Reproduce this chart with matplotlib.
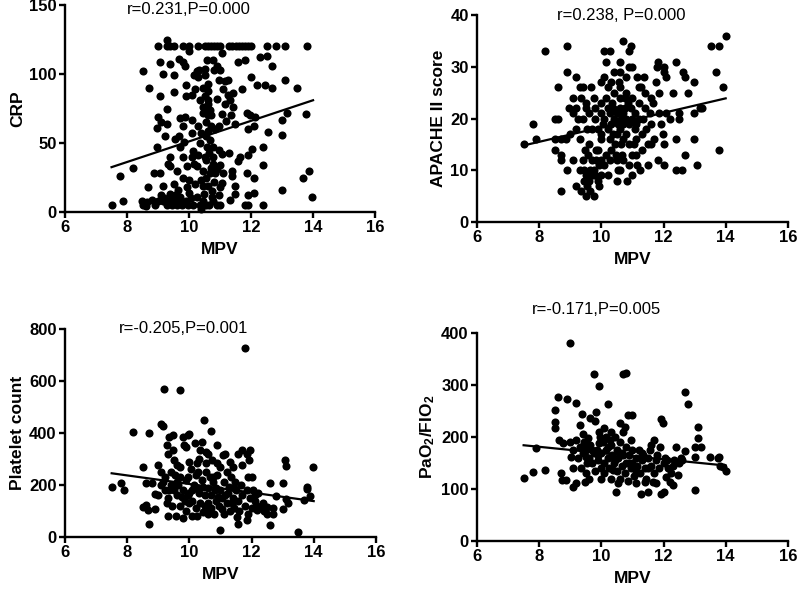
import numpy as np
import matplotlib
matplotlib.use('Agg')
import matplotlib.pyplot as plt

plt.rcParams['font.family'] = ['Liberation Sans', 'DejaVu Sans']
plt.rcParams['mathtext.fontset'] = 'custom'
plt.rcParams['mathtext.bf'] = 'Liberation Sans:bold'
plt.rcParams['mathtext.rm'] = 'Liberation Sans:bold'
plt.rcParams['mathtext.default'] = 'bf'

# CRP vs MPV
crp_pts = [
    (9.0, 120), (9.3, 120), (9.4, 120), (9.5, 120), (9.8, 120), (10.0, 120), (10.5, 120),
    (10.6, 120), (10.8, 120), (10.9, 120), (11.0, 120), (11.3, 120), (11.4, 120), (11.5, 120),
    (11.6, 120), (11.7, 120), (11.8, 120), (11.9, 120), (12.0, 120), (12.5, 120), (12.8, 120),
    (13.1, 120), (13.8, 120), (9.3, 125), (10.7, 120), (10.3, 120),
    (8.5, 102), (8.7, 90), (9.07, 109), (9.17, 100), (9.39, 107), (9.5, 99), (9.66, 111),
    (9.8, 109), (9.87, 106), (10.0, 117), (10.17, 99), (10.25, 102), (10.32, 103), (10.5, 104),
    (10.57, 110), (10.78, 110), (10.9, 106), (11.0, 103), (11.05, 115), (11.27, 96), (10.95, 96),
    (11.43, 86), (11.57, 109), (11.8, 110), (12.3, 112), (12.5, 113), (12.66, 106), (12.66, 90),
    (12.45, 92), (12.0, 98), (12.18, 92), (11.7, 89), (13.1, 96), (13.47, 90), (13.17, 72),
    (13.0, 67), (13.0, 56), (13.77, 71), (13.0, 16), (13.67, 25), (13.87, 30), (13.98, 11),
    (12.38, 5), (12.38, 34), (12.38, 47), (12.56, 58), (12.08, 62), (11.9, 60), (11.86, 72),
    (11.96, 70), (12.13, 69), (12.02, 46), (11.91, 41), (11.86, 28), (12.08, 25), (12.08, 14),
    (11.9, 12), (11.8, 5), (11.9, 5),
    (7.5, 5), (7.88, 8), (7.77, 26), (8.18, 32), (8.47, 8), (8.5, 5), (8.63, 7), (8.69, 18),
    (8.8, 9), (8.9, 5), (8.87, 28), (9.06, 28), (8.98, 47), (8.96, 61), (9.0, 69), (9.1, 65),
    (9.17, 19), (9.17, 8), (9.23, 55), (9.28, 64), (9.3, 75), (9.33, 35), (9.39, 33), (9.4, 13),
    (9.3, 5), (9.5, 8), (9.5, 20), (9.5, 87), (9.6, 5), (9.66, 55), (9.71, 47), (9.71, 68),
    (9.71, 11), (9.8, 62), (9.8, 40), (9.8, 25), (9.87, 69), (9.9, 84), (9.9, 92), (9.85, 51),
    (9.92, 33), (9.92, 18), (9.76, 5), (9.98, 5), (10.0, 23), (10.08, 57), (10.08, 67),
    (10.1, 85), (10.13, 44), (10.2, 89), (10.14, 5), (10.25, 11), (10.25, 33), (10.3, 41),
    (10.35, 50), (10.4, 57), (10.35, 5), (10.46, 19), (10.4, 23), (10.38, 2), (10.48, 13),
    (10.5, 40), (10.57, 47), (10.55, 65), (10.5, 74), (10.5, 84), (10.62, 81), (10.6, 78),
    (10.68, 74), (10.7, 70), (10.62, 59), (10.68, 52), (10.78, 47), (10.78, 40), (10.78, 35),
    (10.68, 28), (10.62, 19), (10.73, 11), (10.78, 8), (10.9, 5), (11.0, 5), (11.0, 18),
    (10.9, 31), (11.0, 34), (11.1, 28), (10.95, 45), (11.05, 42), (10.95, 62), (11.05, 71),
    (11.16, 78), (11.27, 85), (11.32, 81), (11.43, 76), (11.38, 30), (11.4, 26), (11.32, 9),
    (11.48, 13), (11.48, 19), (11.58, 37), (11.65, 40), (11.48, 64), (11.3, 43), (10.5, 99),
    (10.8, 103), (10.6, 93), (10.35, 81), (10.46, 76), (9.2, 10), (9.35, 8), (9.45, 10),
    (9.55, 12), (9.65, 16), (9.9, 8), (10.05, 10), (10.2, 20), (10.45, 30), (10.55, 38),
    (10.65, 43), (10.85, 28), (10.55, 5), (10.65, 5), (10.75, 15), (9.6, 30), (9.4, 40),
    (10.15, 35), (10.3, 62), (10.6, 88), (10.85, 60), (11.1, 89), (11.2, 66), (11.15, 95),
    (9.55, 53), (9.05, 84), (10.45, 72), (10.9, 82), (11.35, 70), (9.1, 12), (8.6, 4),
    (9.0, 8), (10.1, 40), (11.05, 21),
    (9.25, 7), (9.45, 5), (9.7, 8), (10.0, 14), (10.45, 8), (10.55, 25), (10.7, 32),
    (10.8, 22), (10.95, 12), (10.55, 55), (10.7, 62), (10.6, 70), (10.45, 90), (10.3, 98),
]

# APACHE II score vs MPV
apache_pts = [
    (7.5, 15), (7.8, 19), (7.9, 16), (8.2, 33), (8.5, 20), (8.6, 20), (8.5, 14), (8.6, 26),
    (8.5, 16), (8.7, 16), (8.7, 13), (8.7, 12), (8.7, 6), (8.87, 16), (8.9, 34), (8.9, 29),
    (8.9, 10), (8.97, 22), (9.0, 17), (9.1, 12), (9.1, 21), (9.09, 24), (9.2, 28), (9.2, 7),
    (9.2, 22), (9.25, 20), (9.3, 10), (9.3, 26), (9.34, 24), (9.34, 6), (9.4, 20), (9.4, 26),
    (9.44, 10), (9.46, 14), (9.5, 5), (9.5, 22), (9.5, 23), (9.55, 18), (9.57, 9), (9.57, 13),
    (9.67, 26), (9.75, 10), (9.73, 9), (9.78, 24), (9.78, 5), (9.84, 14), (9.84, 12), (9.9, 8),
    (9.92, 11), (9.94, 7), (9.99, 16), (9.99, 21), (10.0, 17), (10.0, 27), (10.05, 19),
    (10.07, 33), (10.14, 31), (10.1, 28), (10.16, 24), (10.16, 13), (10.21, 9), (10.21, 26),
    (10.27, 16), (10.29, 33), (10.27, 21), (10.29, 12), (10.37, 22), (10.37, 17), (10.4, 29),
    (10.48, 13), (10.5, 8), (10.53, 10), (10.56, 27), (10.59, 31), (10.6, 29), (10.59, 24),
    (10.62, 20), (10.64, 15), (10.7, 12), (10.71, 19), (10.71, 35), (10.75, 22), (10.8, 28),
    (10.83, 8), (10.88, 33), (10.96, 34), (10.9, 30), (11.0, 30), (10.98, 13), (11.0, 9),
    (11.07, 21), (11.07, 18), (11.12, 16), (11.14, 28), (11.15, 11), (11.23, 10), (11.28, 26),
    (11.36, 28), (11.4, 22), (11.44, 18), (11.5, 11), (11.55, 21), (11.6, 15), (11.66, 23),
    (11.7, 16), (11.77, 27), (11.79, 30), (11.82, 31), (11.82, 12), (11.85, 25), (11.87, 21),
    (11.93, 19), (11.98, 17), (12.0, 15), (12.0, 30), (12.03, 29), (12.09, 28), (12.03, 11),
    (12.09, 21), (12.2, 20), (12.3, 25), (12.4, 31), (12.4, 16), (12.4, 10), (12.5, 21),
    (12.5, 20), (12.6, 10), (12.62, 29), (12.7, 28), (12.7, 13), (12.8, 25), (12.98, 27),
    (12.98, 21), (12.98, 16), (13.08, 11), (13.16, 22), (13.25, 22), (13.53, 34), (13.7, 29),
    (13.8, 34), (13.8, 14), (13.9, 26), (14.0, 36),
    (9.6, 8), (9.7, 12), (9.65, 10), (9.5, 9), (9.4, 12), (9.6, 15), (9.7, 18), (9.8, 20),
    (9.9, 18), (10.1, 20), (10.2, 18), (10.3, 19), (10.4, 20), (10.5, 21), (10.6, 18),
    (10.7, 21), (10.8, 20), (10.9, 19), (11.0, 20), (11.1, 19), (11.2, 20), (10.5, 17),
    (10.7, 16), (10.9, 15), (11.0, 24), (10.8, 25), (10.6, 26), (10.4, 25), (10.2, 22),
    (10.0, 23), (9.8, 22), (11.2, 23), (11.3, 17), (11.5, 15), (11.6, 19), (11.3, 14),
    (10.3, 14), (10.1, 11), (10.0, 9), (9.9, 14), (10.5, 12), (10.6, 10), (10.9, 11),
    (11.1, 13), (11.4, 25), (11.6, 24), (9.6, 21), (9.2, 18), (9.3, 16), (10.8, 17),
    (11.2, 26), (10.3, 27), (10.6, 22), (10.85, 23),
    (9.45, 8), (9.55, 7), (9.65, 6), (9.8, 9), (10.0, 12), (10.45, 15), (10.65, 13),
    (10.75, 24), (10.95, 22), (10.55, 19), (10.35, 23), (11.05, 15), (11.35, 20),
]

# Platelet count vs MPV
plt_pts = [
    (7.5, 193), (7.79, 208), (7.9, 180), (8.2, 402), (8.5, 270), (8.5, 116), (8.6, 208),
    (8.6, 122), (8.68, 103), (8.7, 399), (8.7, 51), (8.8, 206), (8.9, 109), (8.9, 167),
    (9.0, 277), (9.08, 435), (9.16, 428), (9.18, 568), (9.1, 251), (9.16, 212), (9.2, 180),
    (9.27, 129), (9.3, 80), (9.27, 354), (9.3, 319), (9.36, 386), (9.4, 251), (9.46, 392),
    (9.48, 334), (9.5, 296), (9.5, 180), (9.57, 80), (9.6, 277), (9.7, 566), (9.7, 232),
    (9.75, 154), (9.78, 75), (9.8, 386), (9.82, 354), (9.9, 347), (9.96, 392), (10.0, 396),
    (9.96, 232), (10.0, 129), (10.07, 180), (10.1, 80), (10.18, 360), (10.23, 283),
    (10.29, 251), (10.34, 334), (10.4, 367), (10.45, 193), (10.47, 450), (10.52, 328),
    (10.53, 103), (10.55, 283), (10.6, 321), (10.68, 409), (10.72, 296), (10.77, 232),
    (10.82, 180), (10.88, 354), (10.9, 283), (10.93, 154), (11.0, 26), (11.04, 109),
    (11.07, 315), (11.15, 321), (11.2, 251), (11.26, 193), (11.31, 289), (11.36, 129),
    (11.47, 212), (11.52, 77), (11.57, 51), (11.57, 321), (11.68, 334), (11.68, 277),
    (11.79, 727), (11.84, 64), (11.86, 321), (11.9, 232), (11.92, 296), (11.95, 334),
    (12.0, 232), (12.05, 180), (12.1, 161), (12.16, 103), (12.38, 129), (12.49, 116),
    (12.6, 45), (12.6, 206), (12.7, 90), (12.8, 158), (13.0, 206), (13.02, 109), (13.07, 296),
    (13.1, 274), (13.1, 148), (13.18, 129), (13.5, 19), (13.7, 144), (13.77, 193), (13.8, 184),
    (13.88, 158), (13.98, 268),
    (9.0, 160), (9.1, 200), (9.2, 230), (9.3, 150), (9.4, 200), (9.45, 120), (9.55, 240),
    (9.6, 160), (9.65, 200), (9.7, 120), (9.8, 180), (9.85, 140), (9.9, 100), (9.9, 220),
    (10.0, 170), (10.05, 260), (10.1, 140), (10.15, 200), (10.2, 110), (10.2, 240),
    (10.3, 170), (10.35, 130), (10.4, 220), (10.45, 95), (10.5, 160), (10.55, 250),
    (10.6, 130), (10.6, 190), (10.7, 110), (10.7, 160), (10.75, 210), (10.8, 90),
    (10.85, 140), (10.9, 240), (10.95, 120), (11.0, 180), (11.0, 270), (11.05, 150),
    (11.1, 90), (11.1, 210), (11.2, 130), (11.25, 170), (11.3, 100), (11.35, 230),
    (11.4, 150), (11.45, 110), (11.5, 180), (11.55, 140), (11.6, 100), (11.65, 200),
    (11.7, 160), (11.8, 120), (11.85, 180), (11.9, 90), (11.95, 150), (12.0, 110),
    (12.1, 140), (12.2, 170), (12.3, 120), (12.4, 100), (12.5, 90), (12.7, 110),
    (10.3, 300), (10.0, 290), (9.7, 270), (11.4, 270), (10.6, 90), (10.25, 80),
    (9.35, 180), (9.6, 210), (9.95, 160), (10.25, 190), (10.5, 120), (10.65, 230),
    (10.85, 190), (11.15, 160), (11.45, 190), (12.15, 120),
]

# PaO2/FIO2 vs MPV
pao2_pts = [
    (7.5, 122), (7.8, 133), (7.9, 179), (8.2, 136), (8.5, 251), (8.5, 228), (8.5, 217),
    (8.6, 276), (8.63, 194), (8.7, 130), (8.72, 117), (8.77, 188), (8.87, 117), (8.9, 273),
    (9.0, 381), (9.03, 162), (9.09, 104), (9.1, 140), (9.2, 265), (9.2, 111), (9.3, 222),
    (9.39, 244), (9.46, 114), (9.52, 162), (9.54, 149), (9.57, 197), (9.64, 236), (9.78, 320),
    (9.82, 248), (9.8, 231), (9.91, 297), (9.92, 210), (9.94, 188), (10.0, 120), (10.1, 217),
    (10.2, 264), (10.27, 194), (10.37, 136), (10.48, 95), (10.53, 111), (10.59, 226),
    (10.7, 320), (10.8, 323), (10.75, 220), (10.85, 242), (11.0, 242), (10.96, 194),
    (11.0, 149), (11.12, 111), (11.28, 90), (11.39, 114), (11.5, 95), (11.66, 114),
    (11.7, 195), (11.75, 111), (11.92, 234), (11.98, 226), (11.92, 90), (12.03, 95),
    (12.09, 123), (12.2, 114), (12.3, 107), (12.4, 181), (12.46, 127), (12.6, 156),
    (12.7, 287), (12.68, 172), (12.8, 264), (13.0, 162), (13.0, 98), (13.1, 220), (13.1, 197),
    (13.0, 181), (13.2, 181), (13.48, 162), (13.8, 162), (13.75, 159), (13.83, 145),
    (13.9, 143), (14.0, 134),
    (9.0, 190), (9.1, 175), (9.2, 195), (9.25, 160), (9.3, 180), (9.35, 140), (9.4, 170),
    (9.45, 190), (9.5, 130), (9.5, 175), (9.6, 160), (9.6, 120), (9.65, 185), (9.7, 150),
    (9.75, 170), (9.8, 135), (9.85, 175), (9.9, 155), (9.95, 200), (10.0, 140), (10.0, 170),
    (10.05, 190), (10.1, 150), (10.1, 130), (10.15, 175), (10.2, 160), (10.25, 140),
    (10.3, 185), (10.3, 120), (10.35, 165), (10.4, 150), (10.45, 200), (10.5, 135),
    (10.5, 175), (10.55, 160), (10.6, 120), (10.6, 190), (10.65, 145), (10.7, 165),
    (10.75, 130), (10.8, 180), (10.8, 150), (10.85, 115), (10.9, 165), (10.95, 140),
    (11.0, 175), (11.05, 125), (11.1, 160), (11.15, 145), (11.2, 175), (11.25, 130),
    (11.3, 155), (11.35, 165), (11.4, 140), (11.45, 120), (11.5, 160), (11.55, 175),
    (11.6, 145), (11.7, 130), (11.75, 155), (11.8, 165), (11.85, 140), (11.9, 180),
    (12.0, 150), (12.05, 160), (12.15, 140), (12.25, 130), (12.35, 155), (12.5, 150),
    (12.55, 160), (9.4, 205), (10.3, 210), (10.7, 210), (11.6, 185), (10.15, 200),
    (9.55, 185), (9.7, 175), (9.9, 165), (10.2, 180), (10.45, 155), (10.65, 170),
    (10.9, 150), (11.1, 135), (11.3, 170), (11.5, 140), (12.1, 155), (12.3, 145),
]

# regression lines (end points)
fit_x = [7.5, 14.0]
crp_fit = [32.5, 81]
apache_fit = [14.8, 23.9]
plt_fit = [245, 138]
pao2_fit = [184, 145]

panels = [
    dict(pts=crp_pts, fit=crp_fit, ylabel='CRP', yticks=[0, 50, 100, 150],
         note='r=0.231,P=0.000', note_xy=(10.0, 147), rect=[0.0816, 0.6425, 0.389, 0.349]),
    dict(pts=apache_pts, fit=apache_fit, ylabel='APACHE II score', yticks=[0, 10, 20, 30, 40],
         note='r=0.238, P=0.000', note_xy=(10.65, 40), rect=[0.5985, 0.6256, 0.390, 0.349]),
    dict(pts=plt_pts, fit=plt_fit, ylabel='Platelet count', yticks=[0, 200, 400, 600, 800],
         note='r=-0.205,P=0.001', note_xy=(9.8, 800), rect=[0.0816, 0.0944, 0.390, 0.351]),
    dict(pts=pao2_pts, fit=pao2_fit, ylabel=r'PaO$_2$/FIO$_2$', yticks=[0, 100, 200, 300, 400],
         note='r=-0.171,P=0.005', note_xy=(9.85, 445), rect=[0.5985, 0.0877, 0.390, 0.351]),
]

fig = plt.figure(figsize=(7.97, 5.93), dpi=100)

for p in panels:
    ax = fig.add_axes(p['rect'])
    pts = np.array(p['pts'])
    ax.scatter(pts[:, 0], pts[:, 1], s=34, color='black', linewidths=0, clip_on=False, zorder=3)
    ax.plot(fit_x, p['fit'], color='black', lw=1.6, zorder=4)
    ax.set_xlim(6, 16)
    ax.set_ylim(p['yticks'][0], p['yticks'][-1])
    ax.set_xticks([6, 8, 10, 12, 14, 16])
    ax.set_yticks(p['yticks'])
    for s in ['top', 'right']:
        ax.spines[s].set_visible(False)
    for s in ['left', 'bottom']:
        ax.spines[s].set_linewidth(1.7)
    ax.tick_params(direction='out', length=4, width=1.7, labelsize=12, pad=2)
    for lab in ax.get_xticklabels() + ax.get_yticklabels():
        lab.set_fontweight('bold')
    ax.set_xlabel('MPV', fontsize=12.5, fontweight='bold', labelpad=5)
    ax.set_ylabel(p['ylabel'], fontsize=12.5, fontweight='bold', labelpad=3)
    ax.text(p['note_xy'][0], p['note_xy'][1], p['note'], ha='center', va='center',
            fontsize=12, clip_on=False)

fig.savefig('out.png', dpi=100)
